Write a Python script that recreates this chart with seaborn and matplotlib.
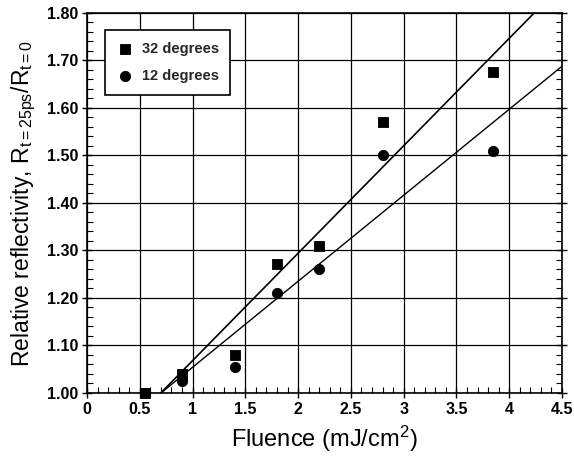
import matplotlib
matplotlib.use("Agg")
import matplotlib.pyplot as plt
from matplotlib.ticker import MultipleLocator, FormatStrFormatter
import seaborn as sns
import numpy as np

# data
fluence_32 = [0.55, 0.90, 1.40, 1.80, 2.20, 2.80, 3.85]
refl_32 = [1.000, 1.040, 1.080, 1.272, 1.310, 1.570, 1.675]
fluence_12 = [0.55, 0.90, 0.90, 1.40, 1.80, 2.20, 2.80, 3.85]
refl_12 = [1.000, 1.025, 1.032, 1.055, 1.210, 1.260, 1.500, 1.510]
series_labels = ["32 degrees", "12 degrees"]

sns.set_theme(style="ticks")
plt.rcParams['font.family'] = ['Liberation Sans', 'DejaVu Sans']
plt.rcParams['mathtext.fontset'] = 'custom'
plt.rcParams['mathtext.rm'] = 'Liberation Sans'
plt.rcParams['mathtext.it'] = 'Liberation Sans'

fig = plt.figure(figsize=(5.74, 4.59), dpi=100)
ax = fig.add_axes([0.1516, 0.1438, 0.8275, 0.8279])
ax.set_xlim(0, 4.5)
ax.set_ylim(1.0, 1.8)

ax.grid(True, which='major', color='black', linewidth=0.9)
ax.set_axisbelow(True)

sns.scatterplot(x=fluence_32, y=refl_32, marker='s', s=60, color='black',
                edgecolor='black', ax=ax, label=series_labels[0], zorder=3, clip_on=False)
sns.scatterplot(x=fluence_12, y=refl_12, marker='o', s=55, color='black',
                edgecolor='black', ax=ax, label=series_labels[1], zorder=3, clip_on=False)

sns.regplot(x=np.array(fluence_32), y=np.array(refl_32), scatter=False, ci=None,
            truncate=False, color='black', line_kws=dict(linewidth=1.2), ax=ax)
sns.regplot(x=np.array(fluence_12), y=np.array(refl_12), scatter=False, ci=None,
            truncate=False, color='black', line_kws=dict(linewidth=1.0), ax=ax)
ax.set_xlim(0, 4.5)
ax.set_ylim(1.0, 1.8)

ax.xaxis.set_major_locator(MultipleLocator(0.5))
ax.xaxis.set_minor_locator(MultipleLocator(0.1))
ax.yaxis.set_major_locator(MultipleLocator(0.1))
ax.yaxis.set_minor_locator(MultipleLocator(0.02))
ax.yaxis.set_major_formatter(FormatStrFormatter('%.2f'))
ax.xaxis.set_major_formatter(matplotlib.ticker.FuncFormatter(lambda v, p: f"{v:g}"))

ax.tick_params(which='major', direction='inout', length=7, width=1, colors='black',
               labelsize=11.5, pad=3)
ax.tick_params(which='minor', direction='in', length=4, width=0.8, colors='black')
ax.tick_params(axis='y', which='both', right=True)
for lbl in ax.get_xticklabels() + ax.get_yticklabels():
    lbl.set_fontweight('bold')

for sp in ax.spines.values():
    sp.set_color('black')
    sp.set_linewidth(1.2)

ax.set_xlabel("Fluence (mJ/cm$^2$)", fontsize=17, color='black', labelpad=5)
ax.set_ylabel("Relative reflectivity, R$_{\\mathrm{t=25ps}}$/R$_{\\mathrm{t=0}}$",
              fontsize=16.5, color='black', labelpad=6)

leg = ax.legend(loc='upper left', bbox_to_anchor=(0.038, 0.955), borderaxespad=0,
                frameon=True, fancybox=False, edgecolor='black', framealpha=1,
                prop=dict(size=10.5, weight='bold'), handletextpad=0.5,
                borderpad=0.8, labelspacing=0.9, handlelength=1.2)
leg.get_frame().set_linewidth(1.2)

fig.savefig("out.png", dpi=100)
